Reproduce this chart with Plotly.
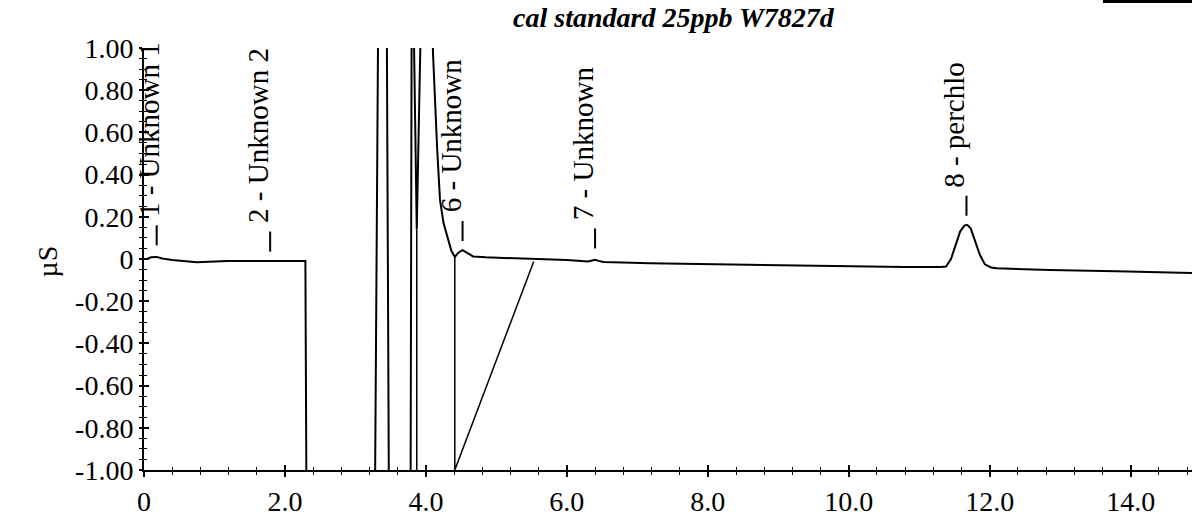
import plotly.graph_objects as go

# ---- data ----
time_min = [0.04, 0.10, 0.18, 0.26, 0.40, 0.75, 1.18, 1.46, 1.79, 2.05, 2.29, 2.31,
            3.27, 3.33, 3.44, 3.48, 3.78, 3.80, 3.81, 3.87, 3.95, 4.06, 4.10, 4.16,
            4.20, 4.25, 4.30, 4.36, 4.41, 4.46, 4.52, 4.58, 4.67, 4.85, 5.19, 5.60,
            6.00, 6.30, 6.36, 6.40, 6.45, 6.52, 7.18, 7.97, 9.00, 9.97, 10.80, 11.30,
            11.38, 11.45, 11.52, 11.58, 11.64, 11.68, 11.73, 11.79, 11.86, 11.93,
            12.02, 12.10, 12.85, 13.80, 14.87]
signal_us = [0.000, 0.008, 0.010, 0.002, -0.005, -0.015, -0.010, -0.010, -0.009, -0.009, -0.009, -1.5,
             -1.5, 1.5, 1.5, -1.5, -1.5, 1.5, 1.5, 0.14, 1.5, 1.5, 0.98, 0.52,
             0.28, 0.17, 0.11, 0.04, 0.010, 0.030, 0.042, 0.030, 0.012, 0.008, 0.005, 0.000,
             -0.005, -0.012, -0.008, -0.004, -0.009, -0.014, -0.020, -0.024, -0.030, -0.036, -0.038, -0.038,
             -0.036, 0.000, 0.070, 0.130, 0.158, 0.162, 0.145, 0.090, 0.020, -0.025,
             -0.040, -0.044, -0.052, -0.058, -0.066]

# integration baseline / drop lines
seg_x = [3.87, 3.87, None, 4.41, 4.41, 5.53]
seg_y = [0.14, -1.0, None, 0.01, -1.0, -0.012]

# peak labels
peak_names = ["1 - Unknown 1", "2 - Unknown 2", "6 - Unknown", "7 - Unknown", "8 - perchlo"]
peak_rt = [0.18, 1.79, 4.52, 6.40, 11.67]
peak_apex = [0.02, -0.01, 0.04, 0.005, 0.16]

x_ticks = [0, 2, 4, 6, 8, 10, 12, 14]
x_ticktext = ["0", "2.0", "4.0", "6.0", "8.0", "10.0", "12.0", "14.0"]
y_ticks = [1.0, 0.8, 0.6, 0.4, 0.2, 0.0, -0.2, -0.4, -0.6, -0.8, -1.0]
y_ticktext = ["1.00", "0.80", "0.60", "0.40", "0.20", "0", "-0.20", "-0.40", "-0.60", "-0.80", "-1.00"]

title_text = "cal standard 25ppb W7827d"
y_title = "µS"

FONT = "Liberation Serif"
XR = [0, 14.87]
YR = [-1.0, 1.0]

fig = go.Figure()
fig.add_trace(go.Scatter(x=time_min, y=signal_us, mode="lines",
                         line=dict(color="black", width=2), hoverinfo="skip"))
fig.add_trace(go.Scatter(x=seg_x, y=seg_y, mode="lines",
                         line=dict(color="black", width=1.5), hoverinfo="skip"))

# label tick marks above peaks
tx, ty = [], []
for rt, ap in zip(peak_rt, peak_apex):
    tx += [rt, rt, None]
    ty += [ap + 0.045, ap + 0.14, None]
fig.add_trace(go.Scatter(x=tx, y=ty, mode="lines",
                         line=dict(color="black", width=2), hoverinfo="skip"))

# dummy trace for the overlay axes (inside ticks)
fig.add_trace(go.Scatter(x=[None], y=[None], xaxis="x2", yaxis="y2", showlegend=False))

for i, (name, rt, ap) in enumerate(zip(peak_names, peak_rt, peak_apex)):
    fig.add_annotation(x=rt, y=ap + 0.17, xref="x", yref="y", text=name,
                       textangle=-90, showarrow=False, xanchor="center", yanchor="bottom",
                       xshift=-7 if i == 0 else -12,
                       font=dict(family=FONT, size=29, color="black"))

fig.add_annotation(x=0, y=0.493, xref="paper", yref="paper", text=y_title,
                   textangle=-90, showarrow=False, xshift=-114,
                   font=dict(family=FONT, size=28, color="black"))

fig.add_shape(type="line", xref="paper", yref="paper", x0=0.915, x1=1.0, y0=1.11, y1=1.11,
              line=dict(color="black", width=3))

axis_common = dict(showgrid=False, zeroline=False, showline=True, linecolor="black",
                   linewidth=2, tickcolor="black", tickwidth=1.5)

fig.update_layout(
    width=1192, height=516,
    margin=dict(l=144, r=0, t=48, b=46),
    paper_bgcolor="white", plot_bgcolor="white",
    showlegend=False,
    title=dict(text=title_text, x=0.565, xanchor="center", y=0.966, yanchor="middle",
               font=dict(family=FONT, size=28, color="black", style="italic", weight="bold")),
    xaxis=dict(range=XR, tickvals=x_ticks, ticktext=x_ticktext, ticks="outside", ticklen=5,
               tickfont=dict(family=FONT, size=28, color="black"),
               minor=dict(dtick=0.4, ticks="outside", ticklen=3, tickcolor="black", tickwidth=1.2),
               **axis_common),
    yaxis=dict(range=YR, tickvals=y_ticks, ticktext=y_ticktext, ticks="outside", ticklen=3,
               tickfont=dict(family=FONT, size=28, color="black"),
               minor=dict(dtick=0.05, ticks="outside", ticklen=3, tickcolor="black", tickwidth=1.2),
               **axis_common),
    xaxis2=dict(range=XR, overlaying="x", anchor="y2", side="bottom", tickvals=x_ticks,
                ticks="inside", ticklen=5, showticklabels=False,
                minor=dict(dtick=0.4, ticks="inside", ticklen=3, tickcolor="black", tickwidth=1.2),
                **axis_common),
    yaxis2=dict(range=YR, overlaying="y", anchor="x2", side="left", tickvals=y_ticks,
                ticks="inside", ticklen=5, showticklabels=False,
                minor=dict(dtick=0.05, ticks="inside", ticklen=3, tickcolor="black", tickwidth=1.2),
                **axis_common),
)

fig.write_html("out.html")
